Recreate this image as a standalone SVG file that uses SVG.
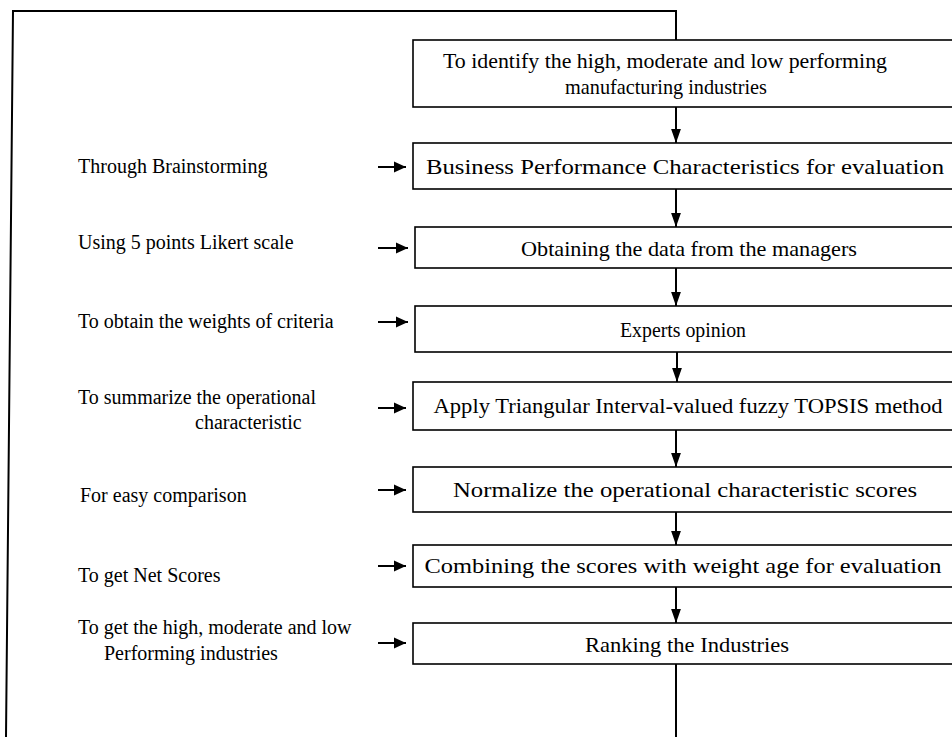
<svg xmlns="http://www.w3.org/2000/svg" width="952" height="737" viewBox="0 0 952 737">
<style>
.box{fill:#fff;stroke:#000;stroke-width:1.6}
.t{font-family:"Liberation Serif","Times New Roman",serif;font-size:20px;fill:#000}
.b{font-size:21px}
.c{text-anchor:middle}
.ln{fill:none;stroke:#000;stroke-width:2}
</style>
<defs>
<marker id="ah" viewBox="0 0 10 10" refX="10" refY="5" markerWidth="12" markerHeight="12" markerUnits="userSpaceOnUse" orient="auto">
<path d="M0,0.5 L10,5 L0,9.5 z" fill="#000"/>
</marker>
<marker id="av" viewBox="0 0 10 10" refX="10" refY="5" markerWidth="14" markerHeight="14" markerUnits="userSpaceOnUse" orient="auto">
<path d="M0,1.5 L10,5 L0,8.5 z" fill="#000"/>
</marker>
</defs>
<g id="connectors">
<path class="ln" d="M6,737 L13,11 L676,11 L676,40"/>
<path class="ln" d="M676,664 L676,737"/>
<path class="ln" d="M676,107 L676,143" marker-end="url(#av)"/>
<path class="ln" d="M676,189 L676,227" marker-end="url(#av)"/>
<path class="ln" d="M676,268 L676,306" marker-end="url(#av)"/>
<path class="ln" d="M677,352 L677,382" marker-end="url(#av)"/>
<path class="ln" d="M676,430 L676,467" marker-end="url(#av)"/>
<path class="ln" d="M676,512 L676,545" marker-end="url(#av)"/>
<path class="ln" d="M676,587 L676,623" marker-end="url(#av)"/>
<path class="ln" d="M378,167 L406,167" marker-end="url(#ah)"/>
<path class="ln" d="M378,248 L408,248" marker-end="url(#ah)"/>
<path class="ln" d="M378,322 L408,322" marker-end="url(#ah)"/>
<path class="ln" d="M378,408 L406,408" marker-end="url(#ah)"/>
<path class="ln" d="M378,490 L406,490" marker-end="url(#ah)"/>
<path class="ln" d="M378,566 L406,566" marker-end="url(#ah)"/>
<path class="ln" d="M378,643 L406,643" marker-end="url(#ah)"/>
</g>
<g id="n1"><rect class="box" x="413" y="40" width="560" height="67"/>
<text class="t b c" x="665" y="68" textLength="444" lengthAdjust="spacingAndGlyphs">To identify the high, moderate and low performing</text>
<text class="t b c" x="666" y="94" textLength="202" lengthAdjust="spacingAndGlyphs">manufacturing industries</text></g>
<g id="n2"><rect class="box" x="413" y="143" width="560" height="46"/>
<text class="t b c" x="685" y="174" textLength="518" lengthAdjust="spacingAndGlyphs">Business Performance Characteristics for evaluation</text></g>
<g id="n3"><rect class="box" x="415" y="227" width="560" height="41"/>
<text class="t b c" x="689" y="256" textLength="336" lengthAdjust="spacingAndGlyphs">Obtaining the data from the managers</text></g>
<g id="n4"><rect class="box" x="415" y="306" width="560" height="46"/>
<text class="t b c" x="683" y="337" textLength="126" lengthAdjust="spacingAndGlyphs">Experts opinion</text></g>
<g id="n5"><rect class="box" x="413" y="382" width="560" height="48"/>
<text class="t b c" x="688" y="413" textLength="509" lengthAdjust="spacingAndGlyphs">Apply Triangular Interval-valued fuzzy TOPSIS method</text></g>
<g id="n6"><rect class="box" x="413" y="467" width="560" height="45"/>
<text class="t b c" x="685" y="497" textLength="464" lengthAdjust="spacingAndGlyphs">Normalize the operational characteristic scores</text></g>
<g id="n7"><rect class="box" x="413" y="545" width="560" height="42"/>
<text class="t b c" x="683" y="573" textLength="517" lengthAdjust="spacingAndGlyphs">Combining the scores with weight age for evaluation</text></g>
<g id="n8"><rect class="box" x="413" y="623" width="560" height="41"/>
<text class="t b c" x="687" y="652" textLength="204" lengthAdjust="spacingAndGlyphs">Ranking the Industries</text></g>
<g id="labels">
<text class="t" x="78" y="173">Through Brainstorming</text>
<text class="t" x="78" y="249">Using 5 points Likert scale</text>
<text class="t" x="78" y="328">To obtain the weights of criteria</text>
<text class="t" x="78" y="404">To summarize the operational</text>
<text class="t" x="195" y="429">characteristic</text>
<text class="t" x="80" y="502">For easy comparison</text>
<text class="t" x="78" y="582">To get Net Scores</text>
<text class="t" x="78" y="634">To get the high, moderate and low</text>
<text class="t" x="104" y="660">Performing industries</text>
</g>
</svg>
